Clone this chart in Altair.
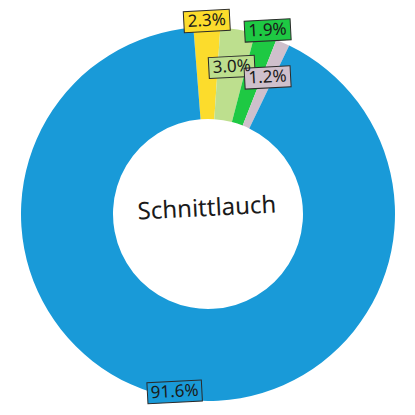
import math
import altair as alt
import pandas as pd

labels = ["2.3%", "3.0%", "1.9%", "1.2%", "91.6%"]
values = [2.3, 3.0, 1.9, 1.2, 91.6]
colors = ["#fcdc2c", "#bddf8e", "#1ec943", "#cfc0cc", "#199ad8"]
center_title = ["Schnittlauch"]

df = pd.DataFrame({"label": labels, "value": values, "color": colors,
                   "order": list(range(len(values)))})

CX, CY = 200, 206
R_OUT, R_IN = 187, 95
START = -4.5 * math.pi / 180

base = (
    alt.Chart(df)
    .transform_window(cum="sum(value)", sort=[alt.SortField("order")], frame=[None, 0])
    .transform_joinaggregate(total="sum(value)")
    .transform_calculate(
        a1=f"{START} + 2*PI*datum.cum/datum.total",
        a0=f"{START} + 2*PI*(datum.cum-datum.value)/datum.total",
    )
    .transform_calculate(
        mid="(datum.a0+datum.a1)/2",
        lr="datum.order == 4 ? 181 : (datum.order % 2 == 0 ? 193 : 149)",
        bw="8.5*length(datum.label)+12",
    )
    .transform_calculate(
        lx=f"{CX} + datum.lr*sin(datum.mid)",
        ly=f"{CY} - datum.lr*cos(datum.mid)",
        hh="21/datum.bw",
        sz="datum.bw*datum.bw",
    )
    .transform_calculate(
        shp="'M-1,-' + datum.hh + 'L1,-' + datum.hh + 'L1,' + datum.hh + 'L-1,' + datum.hh + 'Z'"
    )
)

arcs = base.mark_arc(innerRadius=R_IN, outerRadius=R_OUT).encode(
    theta=alt.Theta("a0:Q", scale=None, stack=None),
    theta2="a1:Q",
    fill=alt.Fill("color:N", scale=None),
    x=alt.value(CX),
    y=alt.value(CY),
)

boxes = base.mark_point(filled=True, opacity=1, stroke="#2a2a2a", strokeWidth=1, angle=357).encode(
    x=alt.X("lx:Q", scale=None),
    y=alt.Y("ly:Q", scale=None),
    shape=alt.Shape("shp:N", scale=None),
    size=alt.Size("sz:Q", scale=None),
    fill=alt.Fill("color:N", scale=None),
)

texts = base.mark_text(fontSize=17, font="Noto Sans", color="#1a1a1a", angle=357).encode(
    x=alt.X("lx:Q", scale=None),
    y=alt.Y("ly:Q", scale=None),
    text="label:N",
)

center = alt.Chart(pd.DataFrame({"t": center_title})).mark_text(
    fontSize=24, font="Noto Sans", color="#1a1a1a", angle=357
).encode(text="t:N", x=alt.value(CX - 1), y=alt.value(CY - 5))

chart = (
    alt.layer(arcs, boxes, texts, center)
    .properties(width=399, height=399, padding=0, autosize="none")
    .configure_view(stroke=None)
)

chart.save("out.html", embed_options={"renderer": "svg", "actions": False})
